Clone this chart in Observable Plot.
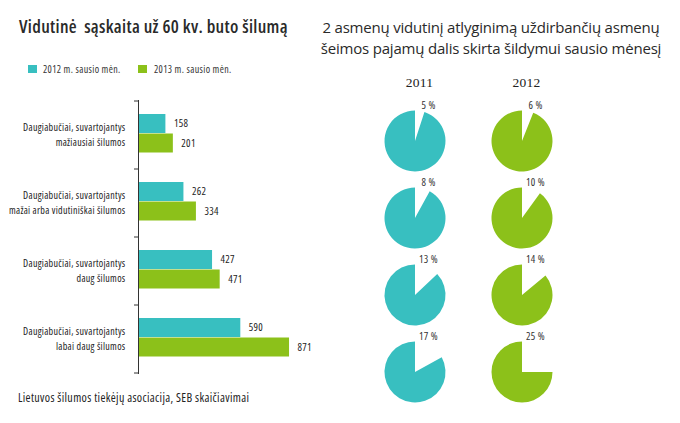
<!DOCTYPE html>
<html>
<head>
<meta charset="utf-8">
<script src="https://cdn.jsdelivr.net/npm/d3@7"></script>
<script src="https://cdn.jsdelivr.net/npm/@observablehq/plot@0.6"></script>
<style>
  html, body { margin: 0; padding: 0; background: #fff; }
  #page { position: relative; width: 680px; height: 423px; overflow: hidden; font-family: "Open Sans", sans-serif; color: #222; }
  .abs { position: absolute; white-space: pre; }
  #title1 { left: 19px; top: 14px; font-size: 18px; font-weight: 600; font-stretch: 85%; letter-spacing: 0.32px; color: #2a2a2a; }
  #title2 { left: 312px; top: 17px; width: 358px; text-align: center; font-size: 15px; font-stretch: 93%; letter-spacing: -0.2px; line-height: 21px; color: #2a2a2a; }
  .sw { position: absolute; width: 9px; height: 8px; }
  .lg { position: absolute; font-size: 10px; font-stretch: 85%; letter-spacing: 0.35px; color: #333; }
  #source { left: 18px; top: 389px; font-size: 12px; font-stretch: 85%; letter-spacing: 0.35px; color: #222; }
  #bars, #pies { position: absolute; top: 0; }
  #bars { left: 0; }
  #pies { left: 340px; }
</style>
</head>
<body>
<div id="page">
  <div id="title1" class="abs"></div>
  <div id="title2" class="abs"></div>
  <div id="legend"></div>
  <div id="bars"></div>
  <div id="pies"></div>
  <div id="source" class="abs"></div>
</div>
<script>
const titleLeft = "Vidutinė  sąskaita už 60 kv. buto šilumą";
const titleRight = "2 asmenų vidutinį atlyginimą uždirbančių asmenų\nšeimos pajamų dalis skirta šildymui sausio mėnesį";
const sourceText = "Lietuvos šilumos tiekėjų asociacija, SEB skaičiavimai";

const categories = [
  "Daugiabučiai, suvartojantys\nmažiausiai šilumos",
  "Daugiabučiai, suvartojantys\nmažai arba vidutiniškai šilumos",
  "Daugiabučiai, suvartojantys\ndaug šilumos",
  "Daugiabučiai, suvartojantys\nlabai daug šilumos"
];
const seriesNames = ["2012 m. sausio mėn.", "2013 m. sausio mėn."];
const values2012 = [158, 262, 427, 590];
const values2013 = [201, 334, 471, 871];

const pieYears = ["2011", "2012"];
const share2011 = [5, 8, 13, 17];
const share2012 = [6, 10, 14, 25];

const teal = "#38bfc0";
const green = "#8cc11a";
const sans = "Open Sans, sans-serif";
const serif = "Liberation Serif, DejaVu Serif, serif";

document.getElementById("title1").textContent = titleLeft;
document.getElementById("title2").textContent = titleRight;
document.getElementById("source").textContent = sourceText;

// legend
const legend = document.getElementById("legend");
[[teal, 28, 43], [green, 138, 154]].forEach(([c, sx, tx], i) => {
  const s = document.createElement("div");
  s.className = "sw"; s.style.left = sx + "px"; s.style.top = "65px"; s.style.background = c;
  legend.appendChild(s);
  const t = document.createElement("div");
  t.className = "lg"; t.style.left = tx + "px"; t.style.top = "62px"; t.textContent = seriesNames[i];
  legend.appendChild(t);
});

// bar chart
const rows = categories.map((c, i) => ({category: c, v2012: values2012[i], v2013: values2013[i]}));

const boundaryTicks = (index, scales) => {
  const y = scales.y, x = scales.x;
  const bw = y(categories[1]) - y(categories[0]);
  const pos = categories.map(c => y(c)).concat([y(categories[categories.length - 1]) + bw]);
  const x0 = x(0);
  const g = d3.create("svg:g");
  g.selectAll("line").data(pos).join("line")
    .attr("x1", x0 - 4).attr("x2", x0)
    .attr("y1", d => d).attr("y2", d => d)
    .attr("stroke", "#333").attr("stroke-width", 1);
  return g.node();
};

const bars = Plot.plot({
  width: 340, height: 390,
  marginTop: 100, marginBottom: 16, marginLeft: 138, marginRight: 28.6,
  style: {fontFamily: sans, fontStretch: "85%", letterSpacing: "0.3px", background: "transparent", overflow: "visible"},
  x: {domain: [0, 1000], axis: null},
  y: {domain: categories, padding: 0, axis: null},
  marks: [
    Plot.barX(rows, {y: "category", x: "v2012", fill: teal, insetTop: 13, insetBottom: 36}),
    Plot.barX(rows, {y: "category", x: "v2013", fill: green, insetTop: 32.5, insetBottom: 16.5}),
    Plot.ruleX([0], {stroke: "#333", strokeWidth: 1}),
    boundaryTicks,
    Plot.text(rows, {y: "category", x: 0, text: "category", textAnchor: "end", dx: -13, dy: -2, lineHeight: 1.5, fontSize: 10, fill: "#222"}),
    Plot.text(rows, {y: "category", x: "v2012", text: d => String(d.v2012), textAnchor: "start", dx: 8, dy: -11.5, fontSize: 10.5, fill: "#222"}),
    Plot.text(rows, {y: "category", x: "v2013", text: d => String(d.v2013), textAnchor: "start", dx: 8, dy: 8, fontSize: 10.5, fill: "#222"})
  ]
});
document.getElementById("bars").appendChild(bars);

// pies
const pieData = [];
share2011.forEach((s, i) => pieData.push({year: "2011", row: i, share: s}));
share2012.forEach((s, i) => pieData.push({year: "2012", row: i, share: s}));

const pieMark = (index, scales) => {
  const x = scales.x, y = scales.y;
  const arc = d3.arc();
  const g = d3.create("svg:g");
  g.selectAll("path").data(pieData).join("path")
    .attr("transform", d => `translate(${x(d.year)},${y(d.row)})`)
    .attr("d", d => arc({innerRadius: 0, outerRadius: 30.5, startAngle: d.share / 100 * 2 * Math.PI, endAngle: 2 * Math.PI}))
    .attr("fill", d => d.year === "2011" ? teal : green);
  return g.node();
};

const pies = Plot.plot({
  width: 340, height: 423, margin: 0,
  style: {fontFamily: sans, fontStretch: "85%", letterSpacing: "0.3px", background: "transparent"},
  x: {type: "point", domain: pieYears, range: [74.5, 181.5], padding: 0, axis: null},
  y: {type: "point", domain: [0, 1, 2, 3], range: [141, 372], padding: 0, axis: null},
  marks: [
    pieMark,
    Plot.text(pieData, {x: "year", y: "row", text: d => d.share + " %", dx: 13, dy: -36, fontSize: 10.5, fill: "#333"}),
    Plot.text(pieYears, {x: d => d, frameAnchor: "top", dy: 77, dx: 4, fontSize: 13.5, fontFamily: serif, fill: "#222"})
  ]
});
document.getElementById("pies").appendChild(pies);
</script>
</body>
</html>
